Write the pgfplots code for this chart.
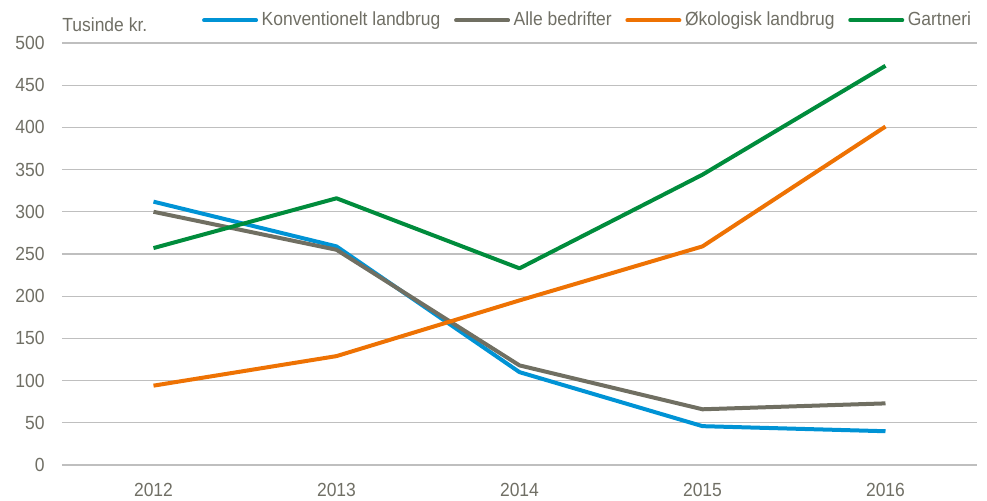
\documentclass[border=0pt]{standalone}
\usepackage{fontspec}
\setmainfont{Liberation Sans}[FakeStretch=0.92]
\usepackage{pgfplots}
\pgfplotsset{compat=1.18}
\definecolor{txt}{HTML}{706F65}
\definecolor{grid}{HTML}{CBCBC3}
\definecolor{cblue}{HTML}{0093D5}
\definecolor{cgray}{HTML}{706F62}
\definecolor{corange}{HTML}{EE7203}
\definecolor{cgreen}{HTML}{008C3C}
\begin{document}
\fontsize{9.5pt}{11pt}\selectfont
\begin{tikzpicture}
\begin{axis}[
  scale only axis, width=457.5pt, height=211pt,
  xmin=2011.5, xmax=2016.5, ymin=0, ymax=500,
  axis line style={draw=none},
  xtick={2012,2013,2014,2015,2016},
  ytick={0,50,...,500},
  xticklabels={2012,2013,2014,2015,2016},
  major tick length=0pt,
  xmajorgrids=false, ymajorgrids=true,
  grid style={grid, line width=0.6pt},
  xtick style={draw=none}, ytick style={draw=none},
  /pgf/number format/assume math mode=true,
  tick label style={font=\fontsize{9.5pt}{11pt}\selectfont, text=txt, inner sep=0pt},
  yticklabel style={anchor=east, xshift=-8.5pt},
  xticklabel style={anchor=north, yshift=-9pt},
  legend style={draw=none, fill=none, inner sep=0pt, at={(1,1)}, anchor=south east, yshift=6pt, xshift=-1pt,
    font=\fontsize{9.5pt}{11pt}\selectfont, text=txt,
    nodes={inner xsep=1.8pt, inner ysep=1pt}},
  legend columns=-1,
  legend cell align=left,
  /tikz/every even column/.append style={column sep=5pt},
  legend image code/.code={\draw[#1, line width=2pt, line cap=round] (0pt,0pt) -- (26pt,0pt);},
  every axis plot/.append style={line width=2pt, line join=round},
  clip=false,
]
\addplot[cblue] coordinates {(2012,312) (2013,259) (2014,110) (2015,46) (2016,40)};
\addlegendentry{Konventionelt landbrug}
\addplot[cgray] coordinates {(2012,300) (2013,255) (2014,118) (2015,66) (2016,73)};
\addlegendentry{Alle bedrifter}
\addplot[corange] coordinates {(2012,94) (2013,129) (2014,195) (2015,259) (2016,401)};
\addlegendentry{Økologisk landbrug}
\addplot[cgreen] coordinates {(2012,257) (2013,316) (2014,233) (2015,344) (2016,473)};
\addlegendentry{Gartneri}
\node[anchor=base west, inner sep=0pt, text=txt, font=\fontsize{9.5pt}{11pt}\selectfont] at ([yshift=5.5pt]rel axis cs:0,1) {Tusinde kr.};
\end{axis}
\pgfresetboundingbox
\path (-31pt,-18pt) rectangle (462.5pt,232.5pt);
\end{tikzpicture}
\end{document}
